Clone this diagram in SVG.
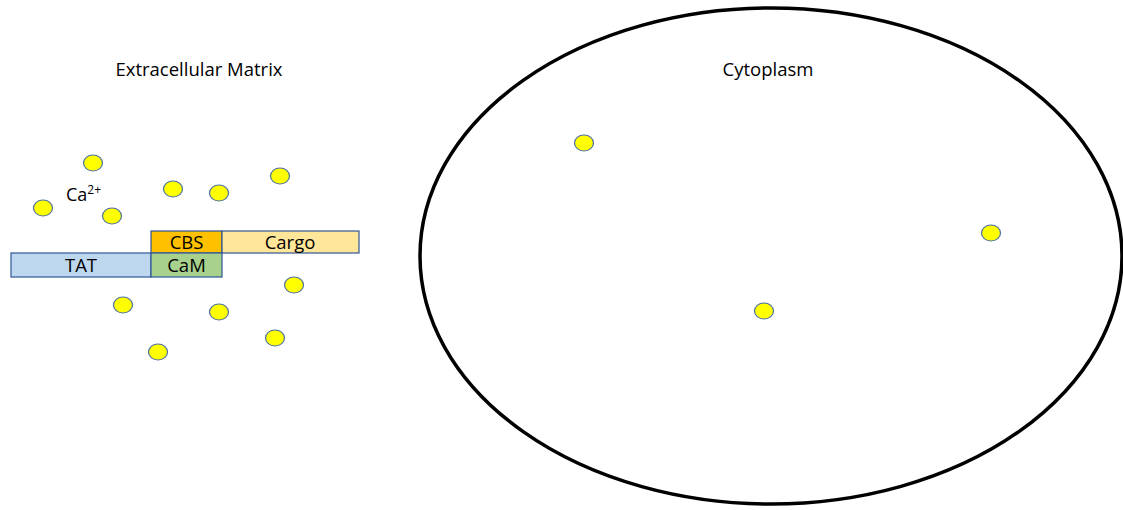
<svg xmlns="http://www.w3.org/2000/svg" width="1123" height="510" viewBox="0 0 1123 510">
<style>
text{font-family:"Open Sans","Liberation Sans",sans-serif;fill:#000;}
.lbl{font-size:18.5px;text-anchor:middle;}
.box{stroke:#2F5597;stroke-width:1.2;}
.ca{fill:#FFFF00;stroke:#4A6FA5;stroke-width:1.2;}
</style>
<rect width="1123" height="510" fill="#fff"/>
<g id="cell">
<ellipse cx="771" cy="256" rx="351" ry="248" fill="none" stroke="#000" stroke-width="3.5"/>
</g>
<g id="labels">
<text class="lbl" x="199" y="76">Extracellular Matrix</text>
<text class="lbl" x="768" y="76">Cytoplasm</text>
<text x="66" y="201" style="font-size:18px">Ca<tspan dy="-7" style="font-size:12px">2+</tspan></text>
</g>
<g id="construct">
<g id="cbs"><rect class="box" x="151" y="231" width="71" height="22" fill="#FFC000"/><text class="lbl" x="186.5" y="249">CBS</text></g>
<g id="cargo"><rect class="box" x="222" y="231" width="137" height="22" fill="#FFE699"/><text class="lbl" x="290" y="249">Cargo</text></g>
<g id="tat"><rect class="box" x="11" y="253" width="140" height="24" fill="#BDD7EE"/><text class="lbl" x="81" y="272">TAT</text></g>
<g id="cam"><rect class="box" x="151" y="253" width="71" height="24" fill="#A9D18E"/><text class="lbl" x="186.5" y="272">CaM</text></g>
</g>
<g id="calcium">
<ellipse class="ca" cx="93" cy="163" rx="9.5" ry="8"/>
<ellipse class="ca" cx="43" cy="208" rx="9.5" ry="8"/>
<ellipse class="ca" cx="112" cy="216" rx="9.5" ry="8"/>
<ellipse class="ca" cx="173" cy="189" rx="9.5" ry="8"/>
<ellipse class="ca" cx="219" cy="193" rx="9.5" ry="8"/>
<ellipse class="ca" cx="280" cy="176" rx="9.5" ry="8"/>
<ellipse class="ca" cx="294" cy="285" rx="9.5" ry="8"/>
<ellipse class="ca" cx="123" cy="305" rx="9.5" ry="8"/>
<ellipse class="ca" cx="219" cy="312" rx="9.5" ry="8"/>
<ellipse class="ca" cx="275" cy="338" rx="9.5" ry="8"/>
<ellipse class="ca" cx="158" cy="352" rx="9.5" ry="8"/>
<ellipse class="ca" cx="584" cy="143" rx="9.5" ry="8"/>
<ellipse class="ca" cx="991" cy="233" rx="9.5" ry="8"/>
<ellipse class="ca" cx="764" cy="311" rx="9.5" ry="8"/>
</g>
</svg>
